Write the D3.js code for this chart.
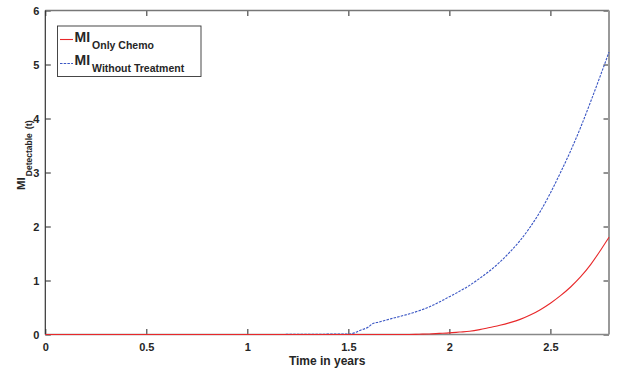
<!DOCTYPE html>
<html>
<head>
<meta charset="utf-8">
<script src="https://cdn.jsdelivr.net/npm/d3@7"></script>
<style>
  body { margin: 0; background: #fff; }
  svg text { font-family: "Liberation Sans", Arial, sans-serif; font-weight: bold; fill: #262626; }
</style>
</head>
<body>
<svg id="chart" width="618" height="371"></svg>
<script>
// time points (years)
var years = [0, 0.5, 1, 1.5, 1.53, 1.56, 1.6, 1.62, 1.65, 1.7, 1.75, 1.8, 1.85, 1.9, 1.95,
             2.0, 2.05, 2.1, 2.15, 2.2, 2.25, 2.3, 2.35, 2.4, 2.45, 2.5, 2.55, 2.6, 2.65,
             2.7, 2.75, 2.79];
// MI only chemo
var onlyChemo = [0, 0, 0, 0, 0, 0, 0, 0, 0, 0, 0, 0, 0.005, 0.01, 0.02,
                 0.03, 0.045, 0.06, 0.09, 0.13, 0.17, 0.22, 0.28, 0.36, 0.46, 0.58, 0.72, 0.88, 1.07,
                 1.3, 1.57, 1.8];
// MI without treatment
var withoutTreatment = [0, 0, 0, 0.01, 0.03, 0.08, 0.14, 0.2, 0.23, 0.28, 0.33, 0.38, 0.44, 0.51, 0.6,
                        0.7, 0.8, 0.91, 1.04, 1.18, 1.34, 1.53, 1.74, 1.99, 2.28, 2.62, 3.0, 3.4, 3.84,
                        4.32, 4.82, 5.23];

var xTicks = [0, 0.5, 1, 1.5, 2, 2.5];
var yTicks = [0, 1, 2, 3, 4, 5, 6];

var svg = d3.select("#chart");
var pLeft = 45.3, pRight = 609, pTop = 10.5, pBottom = 334.5;

var x = d3.scaleLinear().domain([0, 2.79]).range([pLeft, pRight]);
var y = d3.scaleLinear().domain([0, 6]).range([pBottom, pTop]);

// ticks inward on all four sides
svg.append("g").attr("transform", "translate(0," + pBottom + ")")
   .call(d3.axisBottom(x).tickValues(xTicks).tickSizeInner(-5.5).tickSizeOuter(0).tickFormat(d3.format("")))
   .call(function(g){
      g.select(".domain").remove();
      g.selectAll("line").attr("stroke", "#262626");
      g.selectAll("text").attr("y", 9).attr("font-size", "11px");
   });
svg.append("g").attr("transform", "translate(0," + pTop + ")")
   .call(d3.axisTop(x).tickValues(xTicks).tickSizeInner(-5.5).tickSizeOuter(0).tickFormat(""))
   .call(function(g){ g.select(".domain").remove(); g.selectAll("line").attr("stroke", "#262626"); });
svg.append("g").attr("transform", "translate(" + pLeft + ",0)")
   .call(d3.axisLeft(y).tickValues(yTicks).tickSizeInner(-5.5).tickSizeOuter(0).tickFormat(d3.format("")))
   .call(function(g){
      g.select(".domain").remove();
      g.selectAll("line").attr("stroke", "#262626");
      g.selectAll("text").attr("x", -6).attr("font-size", "11px");
   });
svg.append("g").attr("transform", "translate(" + pRight + ",0)")
   .call(d3.axisRight(y).tickValues(yTicks).tickSizeInner(-5.5).tickSizeOuter(0).tickFormat(""))
   .call(function(g){ g.select(".domain").remove(); g.selectAll("line").attr("stroke", "#262626"); });

// box
svg.append("line").attr("x1", pLeft).attr("x2", pRight).attr("y1", pTop).attr("y2", pTop)
   .attr("stroke", "#777").attr("stroke-width", 1.4);
svg.append("line").attr("x1", pRight).attr("x2", pRight).attr("y1", pTop).attr("y2", pBottom)
   .attr("stroke", "#999").attr("stroke-width", 2);
svg.append("line").attr("x1", pLeft).attr("x2", pRight).attr("y1", pBottom).attr("y2", pBottom)
   .attr("stroke", "#888").attr("stroke-width", 1.6);
svg.append("line").attr("x1", pLeft).attr("x2", pLeft).attr("y1", pTop).attr("y2", pBottom)
   .attr("stroke", "#333").attr("stroke-width", 1.2);

var line = d3.line().x(function(d, i){ return x(years[i]); }).y(function(d){ return y(d); })
   .curve(d3.curveMonotoneX);

svg.append("path").datum(withoutTreatment).attr("d", line)
   .attr("fill", "none").attr("stroke", "#3a56c4").attr("stroke-width", 1.1)
   .attr("stroke-dasharray", "2.5,1.2");
svg.append("path").datum(onlyChemo).attr("d", line)
   .attr("fill", "none").attr("stroke", "#e8282a").attr("stroke-width", 1.1);

// legend
var leg = svg.append("g");
leg.append("rect").attr("x", 57.5).attr("y", 26).attr("width", 143.5).attr("height", 50.5)
   .attr("fill", "#fff").attr("stroke", "#333").attr("stroke-width", 0.9);
var entries = [["Only Chemo", "#e8282a", null, 39.5, 41.7], ["Without Treatment", "#3a56c4", "2.5,1.2", 63.5, 64.5]];
entries.forEach(function(e){
   leg.append("line").attr("x1", 60).attr("x2", 73).attr("y1", e[3]).attr("y2", e[3])
      .style("stroke", e[1]).attr("stroke-width", 1.1).attr("stroke-dasharray", e[2]);
   var t = leg.append("text").attr("x", 74.5).attr("y", e[4]).attr("font-size", "14px");
   t.append("tspan").text("MI");
   t.append("tspan").attr("dy", 7.5).attr("dx", 2).attr("font-size", "10.5px").text(e[0]);
});

// axis labels
svg.append("text").attr("x", (pLeft + pRight) / 2).attr("y", 365).attr("text-anchor", "middle")
   .attr("font-size", "12px").text("Time in years");
var yl = svg.append("text").attr("transform", "translate(24.5,190) rotate(-90)").attr("font-size", "11.5px");
yl.append("tspan").text("MI");
yl.append("tspan").attr("dy", 7.5).attr("dx", 1).attr("font-size", "8.5px").text("Detectable");
yl.append("tspan").attr("dx", 4).attr("font-size", "9px").text("(t)");
</script>
</body>
</html>
